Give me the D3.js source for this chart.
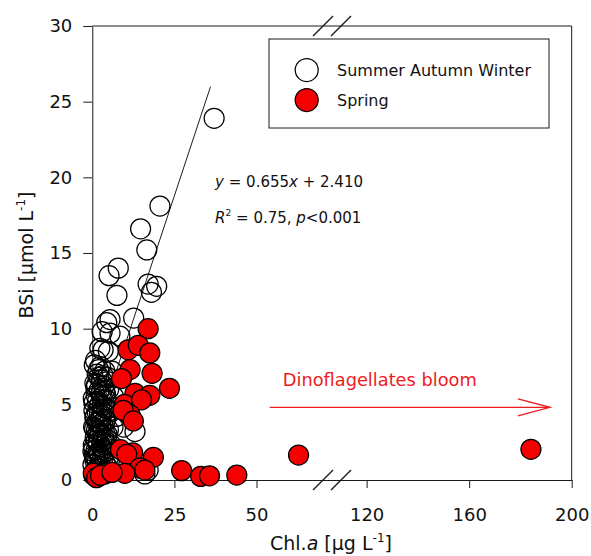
<!DOCTYPE html>
<html>
<head>
<meta charset="utf-8">
<script src="https://cdn.jsdelivr.net/npm/d3@7"></script>
<style>
  body { margin: 0; background: #fff; }
  svg { display: block; }
  text { font-family: "DejaVu Sans", Verdana, sans-serif; fill: #111; }
</style>
</head>
<body>
<svg id="chart" width="591" height="556"></svg>
<script>
// ---- data ----
const xTicks = [0, 25, 50, 120, 160, 200];
const yTicks = [0, 5, 10, 15, 20, 25, 30];
const xBreak = [73, 106.5];          // stretch of Chl.a omitted by the axis break

// Summer, Autumn and Winter samples
const openChl = [37.1, 20.6, 14.7, 16.6, 7.9, 5.1, 17.0, 19.6, 7.5, 18.0, 12.6, 5.4, 4.4, 3.0, 5.4, 8.4, 2.3, 4.9, 3.3,
  1.0, 2.5, 3.8, 1.5, 4.5, 2.8, 0.8, 3.5, 5.0, 2.0, 1.2, 3.0, 4.2, 0.5, 2.3, 3.6, 5.5, 1.5, 2.8, 0.8, 4.0, 7.4, 6.5, 6.0,
  2.0, 3.2, 0.4, 1.3, 2.5, 4.5, 0.9, 3.5, 1.8, 0.3, 2.8, 1.2, 4.0, 2.2, 0.6, 3.1, 1.5, 0.2, 2.5, 4.8, 1.0, 3.5, 6.3, 5.8,
  1.7, 0.5, 2.0, 3.0, 17.0, 16.0, 11.0, 13.5, 9.5, 13.0,
  0.6, 1.9, 3.3, 4.6, 1.1, 2.7, 4.0, 0.3, 1.6, 3.0, 4.3, 2.2, 0.9, 3.8, 1.4, 2.6, 0.7, 4.9, 2.0, 3.4,
  1.2, 2.9, 0.4, 4.1, 1.8, 3.6, 0.8, 2.4, 3.9, 1.5, 5.2, 2.1, 0.5, 3.2, 1.0, 4.4, 2.6, 1.3, 3.7, 0.2];
const openBSi = [23.9, 18.1, 16.6, 15.2, 14.0, 13.5, 12.95, 12.8, 12.2, 12.4, 10.7, 10.6, 10.4, 9.8, 9.7, 9.5, 8.7, 8.5, 8.6,
  7.9, 7.5, 7.2, 7.0, 6.8, 6.6, 6.4, 6.2, 6.0, 5.9, 5.6, 5.5, 5.3, 5.1, 5.0, 4.8, 4.6, 4.5, 4.3, 4.1, 4.0, 4.2, 5.5, 7.2,
  3.8, 3.6, 3.5, 3.3, 3.1, 3.0, 2.8, 2.7, 2.5, 2.3, 2.2, 2.0, 1.9, 1.7, 1.6, 1.4, 1.2, 1.0, 0.9, 0.8, 0.6, 0.5, 3.5, 2.3,
  3.0, 4.6, 6.8, 4.6, 0.66, 0.4, 0.9, 1.2, 3.5, 3.2,
  7.6, 7.3, 6.9, 6.5, 6.1, 5.8, 5.7, 5.4, 5.2, 4.9, 4.7, 4.4, 4.2, 3.9, 3.8, 3.7, 3.4, 3.3, 3.2, 2.9,
  2.6, 2.5, 2.1, 2.4, 1.8, 1.8, 1.3, 1.4, 1.1, 0.8, 1.6, 0.7, 0.3, 2.0, 1.5, 2.7, 4.0, 6.3, 5.9, 1.9];

// Spring samples
const springChl = [17.0, 10.9, 14.0, 17.5, 11.5, 18.2, 23.5, 8.9, 13.0, 17.5, 9.8, 15.0, 11.5, 9.4, 12.5,
  8.6, 12.3, 18.6, 10.5, 14.5, 16.0, 9.9, 3.9, 0.3, 1.3, 2.5, 6.0, 27.2, 33.0, 35.7, 44.0, 62.8, 184.1];
const springBSi = [10.0, 8.6, 8.9, 8.4, 7.3, 7.05, 6.06, 6.7, 5.73, 5.6, 5.0, 5.3, 4.3, 4.6, 3.9,
  2.0, 1.8, 1.5, 1.7, 0.8, 0.66, 0.44, 0.4, 0.45, 0.15, 0.3, 0.5, 0.62, 0.24, 0.28, 0.33, 1.65, 2.03];

// linear fit shown on the chart
const fitSlope = 0.655, fitIntercept = 2.410, fitRange = [0, 36];

// bloom annotation (data units)
const bloomFrom = 54, bloomTo = 191.5, bloomBSi = 4.8, bloomLabelChl = 58, bloomLabelBSi = 6.2;

(function draw() {
  const svg = d3.select("#chart");
  const pLeft = 92.3, pRight = 571.7, pTop = 26, pBottom = 480;
  const breakX = pLeft + (xBreak[0] / 50) * 164.2;

  const x = d3.scaleLinear()
    .domain([0, xBreak[0], xBreak[1], 200])
    .range([pLeft, breakX, breakX, pRight]);
  const y = d3.scaleLinear().domain([0, 30]).range([pBottom, pTop]);

  const ink = "#1a1a1a";

  // frame (top and right)
  svg.append("line").attr("x1", pLeft).attr("x2", pRight).attr("y1", pTop).attr("y2", pTop)
    .attr("stroke", ink).attr("stroke-width", 1);
  svg.append("line").attr("x1", pRight).attr("x2", pRight).attr("y1", pTop).attr("y2", pBottom)
    .attr("stroke", ink).attr("stroke-width", 1);

  // axes
  const gx = svg.append("g").attr("transform", `translate(0,${pBottom})`)
    .call(d3.axisBottom(x).tickValues(xTicks).tickFormat(d3.format("d"))
      .tickSize(8).tickPadding(20).tickSizeOuter(0));
  const gy = svg.append("g").attr("transform", `translate(${pLeft},0)`)
    .call(d3.axisLeft(y).tickValues(yTicks).tickFormat(d3.format("d"))
      .tickSize(9).tickPadding(11).tickSizeOuter(0));
  [gx, gy].forEach(g => {
    g.select(".domain").attr("stroke", ink).attr("stroke-width", 1);
    g.selectAll(".tick line").attr("stroke", ink).attr("stroke-width", 1);
    g.selectAll(".tick text").attr("font-size", 18).attr("font-family", "DejaVu Sans, sans-serif").attr("fill", "#000");
  });

  // axis break marks on top and bottom edges
  [pTop, pBottom].forEach(yy => {
    [-9, 9].forEach(off => {
      svg.append("line")
        .attr("x1", breakX + off - 10).attr("y1", yy + 10)
        .attr("x2", breakX + off + 10).attr("y2", yy - 10)
        .attr("stroke", ink).attr("stroke-width", 1.3);
    });
  });

  // axis titles
  const xTitle = svg.append("text").attr("x", 331).attr("y", 550)
    .attr("text-anchor", "middle").attr("font-size", 19);
  xTitle.append("tspan").text("Chl.");
  xTitle.append("tspan").attr("font-style", "italic").text("a");
  xTitle.append("tspan").text(" [µg L");
  xTitle.append("tspan").attr("font-size", 12).attr("dy", -8).text("-1");
  xTitle.append("tspan").attr("dy", 8).text("]");

  const yTitle = svg.append("text").attr("transform", "translate(33,255) rotate(-90)")
    .attr("text-anchor", "middle").attr("font-size", 19);
  yTitle.append("tspan").text("BSi [µmol L");
  yTitle.append("tspan").attr("font-size", 12).attr("dy", -8).text("-1");
  yTitle.append("tspan").attr("dy", 8).text("]");

  // regression line
  svg.append("line")
    .attr("x1", x(fitRange[0])).attr("y1", y(fitSlope * fitRange[0] + fitIntercept))
    .attr("x2", x(fitRange[1])).attr("y2", y(fitSlope * fitRange[1] + fitIntercept))
    .attr("stroke", ink).attr("stroke-width", 1);

  // points
  const R = 10;
  const openData = openChl.map((c, i) => ({ chl: c, bsi: openBSi[i] }));
  const springData = springChl.map((c, i) => ({ chl: c, bsi: springBSi[i] }));

  svg.append("g").selectAll("circle").data(openData).join("circle")
    .attr("cx", d => x(d.chl)).attr("cy", d => y(d.bsi)).attr("r", R)
    .attr("fill", "none").attr("stroke", "#000").attr("stroke-width", 1.25);

  svg.append("g").selectAll("circle").data(springData).join("circle")
    .attr("cx", d => x(d.chl)).attr("cy", d => y(d.bsi)).attr("r", R)
    .attr("fill", "#f40000").attr("stroke", "#000").attr("stroke-width", 1.25);

  // equation
  const eq1 = svg.append("text").attr("x", x(37.4)).attr("y", 187).attr("font-size", 15);
  eq1.append("tspan").attr("font-style", "italic").text("y");
  eq1.append("tspan").text(" = 0.655");
  eq1.append("tspan").attr("font-style", "italic").text("x");
  eq1.append("tspan").text(" + 2.410");

  const eq2 = svg.append("text").attr("x", x(37.4)).attr("y", 223).attr("font-size", 15);
  eq2.append("tspan").attr("font-style", "italic").text("R");
  eq2.append("tspan").attr("font-size", 9).attr("dy", -7).text("2");
  eq2.append("tspan").attr("dy", 7).text(" = 0.75, ");
  eq2.append("tspan").attr("font-style", "italic").text("p");
  eq2.append("tspan").text("<0.001");

  // bloom annotation
  const bloomRed = "#ee1c1c";
  const ay = y(bloomBSi), ax1 = x(bloomFrom), ax2 = x(bloomTo);
  svg.append("line").attr("x1", ax1).attr("x2", ax2).attr("y1", ay).attr("y2", ay)
    .attr("stroke", bloomRed).attr("stroke-width", 1.4);
  svg.append("path")
    .attr("d", `M${ax2 - 32},${ay - 8.5}L${ax2},${ay}L${ax2 - 32},${ay + 8.5}`)
    .attr("fill", "none").attr("stroke", bloomRed).attr("stroke-width", 1.4);
  svg.append("text").attr("x", x(bloomLabelChl)).attr("y", y(bloomLabelBSi))
    .attr("font-size", 17.8).style("fill", bloomRed).text("Dinoflagellates bloom");

  // legend
  const lg = svg.append("g");
  lg.append("rect").attr("x", 269).attr("y", 39).attr("width", 280).attr("height", 89)
    .attr("fill", "#fff").attr("stroke", ink).attr("stroke-width", 1);
  lg.append("circle").attr("cx", 306.7).attr("cy", 70).attr("r", 11.5)
    .attr("fill", "none").attr("stroke", "#000").attr("stroke-width", 1.25);
  lg.append("circle").attr("cx", 306.7).attr("cy", 100).attr("r", 11.5)
    .attr("fill", "#f40000").attr("stroke", "#000").attr("stroke-width", 1.25);
  lg.append("text").attr("x", 337).attr("y", 76).attr("font-size", 16).text("Summer Autumn Winter");
  lg.append("text").attr("x", 337).attr("y", 106).attr("font-size", 16).text("Spring");
})();
</script>
</body>
</html>
